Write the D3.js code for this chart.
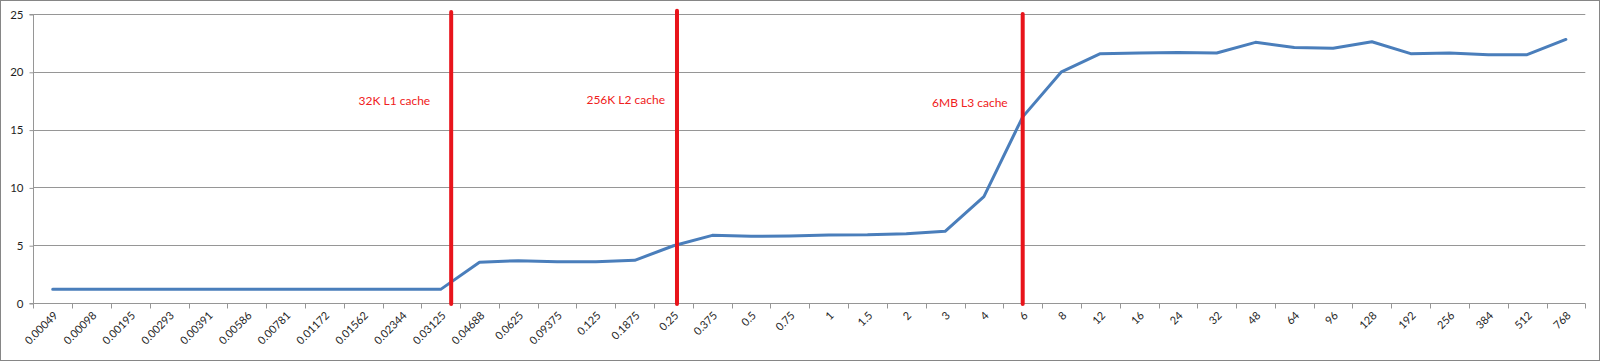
<!DOCTYPE html>
<html>
<head>
<meta charset="utf-8">
<script src="https://cdn.jsdelivr.net/npm/d3@7"></script>
<style>
  html, body { margin: 0; padding: 0; background: #fff; }
  svg { display: block; }
  text { font-family: Lato, "Open Sans", sans-serif; }
</style>
</head>
<body>
<svg id="chart" width="1600" height="361"></svg>
<script>
// ---- data ----
const categories = ["0.00049","0.00098","0.00195","0.00293","0.00391","0.00586","0.00781","0.01172","0.01562","0.02344","0.03125","0.04688","0.0625","0.09375","0.125","0.1875","0.25","0.375","0.5","0.75","1","1.5","2","3","4","6","8","12","16","24","32","48","64","96","128","192","256","384","512","768"];
const values = [1.18,1.18,1.18,1.18,1.18,1.18,1.18,1.18,1.18,1.18,1.18,3.52,3.66,3.57,3.57,3.69,4.95,5.85,5.77,5.8,5.88,5.9,6.0,6.2,9.2,16.1,20.0,21.57,21.63,21.68,21.63,22.55,22.11,22.03,22.6,21.57,21.63,21.48,21.48,22.8];
const yTicks = [0, 5, 10, 15, 20, 25];
// cache boundary markers: position in category-index units
const markerLabels = ["32K L1 cache", "256K L2 cache", "6MB L3 cache"];
const markerAt = [10.77, 16.59, 25.5];

// ---- layout ----
const W = 1600, H = 361;
const pLeft = 33.3, pRight = 1585.3, pTop = 14, pBottom = 303;
const markerTop = [12, 10.7, 14];
const markerLabelDx = [-21, -12, -15];
const markerLabelY = [100.5, 99.5, 102.5];

const svg = d3.select("#chart");

// outer border
svg.append("rect").attr("x", 0.5).attr("y", 0.5).attr("width", W - 1).attr("height", H - 1)
  .attr("fill", "#fff").attr("stroke", "#868686").attr("stroke-width", 1);

const x = d3.scaleBand().domain(categories).range([pLeft, pRight]).padding(0);
const xi = d3.scaleLinear().domain([0, categories.length]).range([pLeft, pRight]);
const y = d3.scaleLinear().domain([0, 25]).range([pBottom, pTop]);

// gridlines
svg.append("g").selectAll("line").data(yTicks.filter(d => d > 0)).join("line")
  .attr("x1", pLeft).attr("x2", pRight)
  .attr("y1", d => Math.round(y(d)) + 0.5).attr("y2", d => Math.round(y(d)) + 0.5)
  .attr("stroke", "#969696").attr("stroke-width", 1);

// y axis
const yAxis = d3.axisLeft(y).tickValues(yTicks).tickSize(4).tickPadding(6);
const gy = svg.append("g").attr("transform", `translate(${Math.round(pLeft) + 0.5},0.5)`).call(yAxis);
gy.select(".domain").attr("stroke", "#969696").attr("d", `M-4,${Math.round(pBottom)}H0V${Math.round(pTop)}H-4`);
gy.selectAll(".tick line").attr("stroke", "#969696");
gy.selectAll(".tick text").attr("font-size", 11.5).attr("fill", "#1f1f1f")
  .attr("font-family", "Lato, sans-serif");

// x axis: ticks at band boundaries
const gx = svg.append("g").attr("transform", `translate(0,${Math.round(pBottom) + 0.5})`);
gx.append("line").attr("x1", pLeft).attr("x2", pRight).attr("stroke", "#969696");
const boundaries = d3.range(categories.length + 1);
gx.selectAll("line.tk").data(boundaries).join("line").attr("class", "tk")
  .attr("x1", d => Math.round(xi(d)) + 0.5).attr("x2", d => Math.round(xi(d)) + 0.5)
  .attr("y1", 0).attr("y2", 5).attr("stroke", "#969696");
gx.selectAll("text").data(categories).join("text")
  .attr("transform", d => `translate(${x(d) + x.bandwidth() / 2 + 3},${10}) rotate(-45)`)
  .attr("text-anchor", "end").attr("dy", "0.35em")
  .attr("font-size", 11).attr("fill", "#1f1f1f")
  .text(d => d);

// data line
const line = d3.line()
  .x((d, i) => x(categories[i]) + x.bandwidth() / 2)
  .y(d => y(d));
svg.append("path").datum(values).attr("d", line)
  .attr("fill", "none").attr("stroke", "#4a7ebb").attr("stroke-width", 3)
  .attr("stroke-linejoin", "round").attr("stroke-linecap", "round");

// cache markers
markerAt.forEach((m, i) => {
  const mx = xi(m);
  svg.append("line").attr("x1", mx).attr("x2", mx)
    .attr("y1", markerTop[i]).attr("y2", pBottom + 1)
    .attr("stroke", "#e8141b").attr("stroke-width", 4).attr("stroke-linecap", "round");
  svg.append("text").attr("x", mx + markerLabelDx[i]).attr("y", markerLabelY[i])
    .attr("text-anchor", "end").attr("dy", "0.35em")
    .attr("font-size", 12).attr("fill", "#f02020")
    .text(markerLabels[i]);
});
</script>
</body>
</html>
